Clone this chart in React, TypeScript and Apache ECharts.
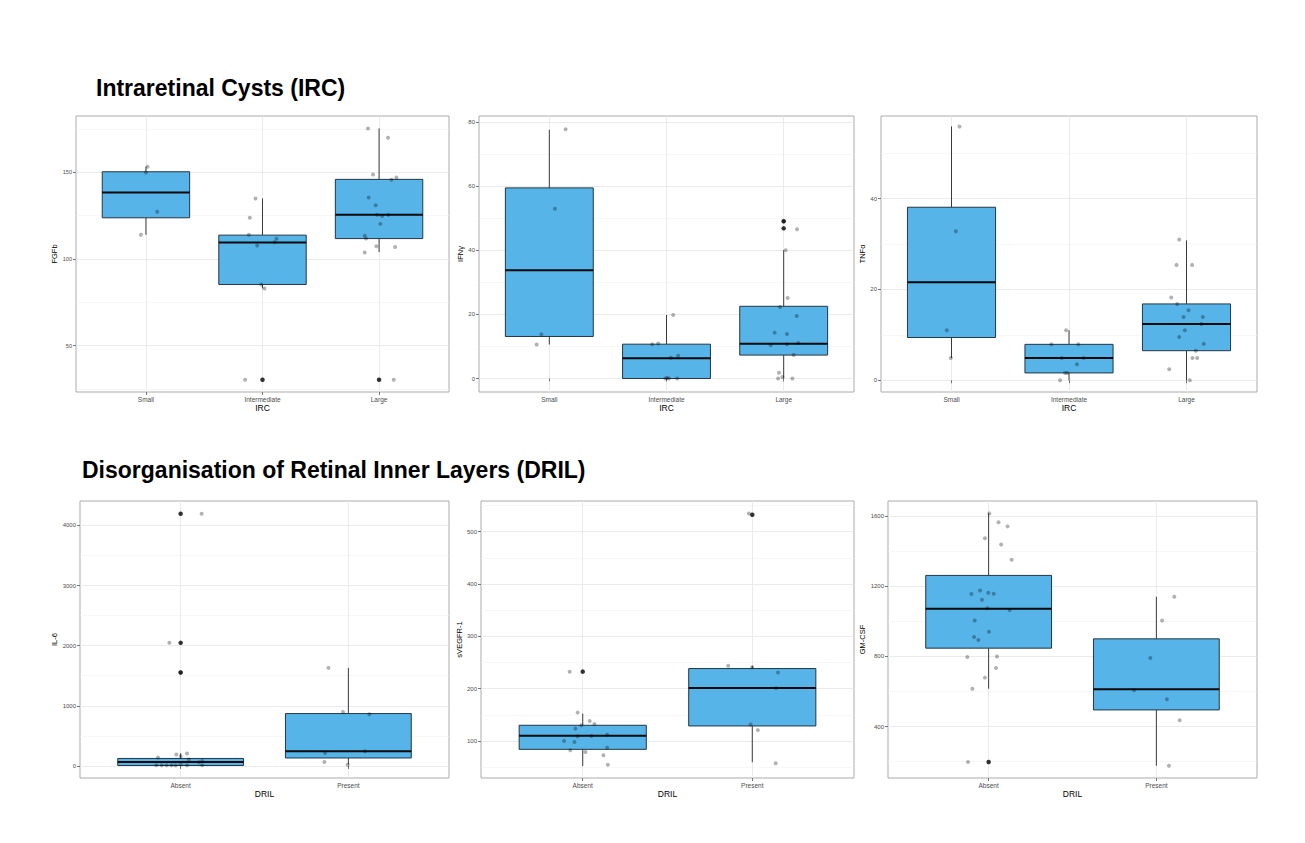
import React, { useEffect, useRef } from "react";
import * as echarts from "echarts";

const FONT = "'Liberation Sans', Arial, sans-serif";

const IRC_CATS = ["Small", "Intermediate", "Large"];
const DRIL_CATS = ["Absent", "Present"];

// Box statistics per category: [lower whisker, Q1, median, Q3, upper whisker]
// Outliers: [category position, value]; Points: [jittered category position, value]

// ---- FGFb ----
const FGFB_BOX = [
  [114, 123.8, 138.4, 150.4, 153.3],
  [83, 85.3, 109.5, 113.8, 135],
  [104, 111.8, 125.5, 146, 175.4],
];
const FGFB_OUTLIERS = [[2, 30.3], [3, 30.3]];
const FGFB_POINTS = [
  [1.014, 153.3], [1.0, 150], [1.097, 127.3], [0.957, 114],
  [1.94, 135], [1.891, 123.8], [1.883, 114], [1.954, 107.8], [2.103, 109.7], [2.12, 111.7], [1.989, 85.3], [2.017, 83], [1.851, 30.3],
  [2.905, 175.4], [3.077, 170], [2.948, 148.8], [3.149, 147.1], [3.106, 145.8], [2.911, 135.5], [2.971, 131.1], [2.983, 125.5],
  [3.026, 124.8], [3.08, 125.5], [3.011, 120.3], [2.877, 113.4], [2.888, 111.8], [2.977, 107.4], [3.138, 107], [2.877, 103.8], [3.126, 30.3],
];
const FGFB_TICKS = [50, 100, 150];
const FGFB_MINOR = [25, 75, 125, 175];
const FGFB_RANGE = [23.2, 182.6];

// ---- IFNγ ----
const IFNG_BOX = [
  [10.6, 13.1, 33.7, 59.4, 77.5],
  [0, 0, 6.3, 10.7, 19.8],
  [0, 7.3, 10.8, 22.5, 40],
];
const IFNG_OUTLIERS = [[3, 49], [3, 46.8]];
const IFNG_POINTS = [
  [1.139, 77.7], [1.048, 52.9], [0.932, 13.8], [0.892, 10.6],
  [2.057, 19.8], [1.878, 10.7], [1.929, 10.9], [2.037, 6.5], [2.099, 7.1], [2.006, 0.2], [1.991, 0], [2.091, 0], [2.02, 0],
  [3.0, 49], [3.114, 46.5], [3.017, 40], [3.034, 25.1], [2.969, 22.3], [3.111, 19.5], [2.923, 14.3], [3.028, 13.9],
  [2.889, 10.4], [3.028, 10.7], [3.125, 11.1], [3.085, 7.3], [2.96, 1.8], [2.989, 0.5], [2.952, 0], [3.074, 0],
];
const IFNG_TICKS = [0, 20, 40, 60, 80];
const IFNG_MINOR = [10, 30, 50, 70];
const IFNG_RANGE = [-4.2, 81.8];

// ---- TNFα ----
const TNFA_BOX = [
  [4.9, 9.4, 21.6, 38.1, 55.9],
  [0, 1.6, 4.9, 7.9, 11],
  [0, 6.5, 12.4, 16.8, 30.8],
];
const TNFA_OUTLIERS: number[][] = [];
const TNFA_POINTS = [
  [1.068, 55.9], [1.037, 32.8], [0.96, 11], [0.994, 4.9],
  [1.975, 11], [1.85, 7.9], [2.079, 7.9], [1.938, 4.9], [2.125, 4.9], [2.068, 3.5], [1.966, 1.6], [1.986, 1.6], [1.924, 0],
  [2.938, 31], [2.915, 25.4], [3.048, 25.4], [2.87, 18.2], [2.921, 16.8], [3.017, 15.4], [2.975, 13.9], [3.139, 13.9],
  [3.127, 12.4], [2.986, 11], [2.938, 9.5], [3.147, 8], [3.079, 6.5], [3.051, 4.9], [3.091, 4.9], [2.853, 2.4], [3.028, 0],
];
const TNFA_TICKS = [0, 20, 40];
const TNFA_MINOR = [10, 30, 50];
const TNFA_RANGE = [-2.6, 58.2];

// ---- IL-6 ----
const IL6_BOX = [
  [0, 8, 68, 125, 210],
  [22, 133, 244, 871, 1631],
];
const IL6_OUTLIERS = [[1, 4194], [1, 2047], [1, 1553]];
const IL6_POINTS = [
  [0.865, 140], [0.974, 190], [1.0, 161], [1.038, 206], [1.049, 106], [1.109, 62], [1.129, 83],
  [0.855, 12], [0.887, 10], [0.917, 10], [0.946, 10], [0.97, 8], [1.0, 28], [1.038, 12], [1.129, 12],
  [1.125, 4194], [0.933, 2047], [1.0, 1553],
  [1.881, 1631], [1.968, 899], [2.125, 860], [1.861, 216], [2.099, 244], [1.857, 67], [1.996, 22],
];
const IL6_TICKS = [0, 1000, 2000, 3000, 4000];
const IL6_MINOR = [500, 1500, 2500, 3500];
const IL6_RANGE = [-200, 4405];

// ---- sVEGFR-1 ----
const SVEGFR_BOX = [
  [52.2, 84, 110.2, 130, 152.4],
  [59.3, 128.7, 201.4, 238.4, 243.6],
];
const SVEGFR_OUTLIERS = [[1, 232.5], [2, 532.5]];
const SVEGFR_POINTS = [
  [0.923, 232.5], [0.97, 154.2], [1.041, 138.3], [1.069, 132.5], [0.992, 130], [0.957, 123.6], [0.97, 109], [1.051, 109.6],
  [1.144, 112], [0.89, 100], [0.951, 98], [1.144, 87.2], [0.927, 82.1], [1.016, 78.9], [1.122, 72.6], [1.148, 54.7],
  [1.858, 243.6], [2.0, 241], [2.152, 231], [2.14, 201], [1.99, 131.6], [2.033, 120.7], [2.138, 57.5], [1.98, 535],
];
const SVEGFR_TICKS = [100, 200, 300, 400, 500];
const SVEGFR_MINOR = [50, 150, 250, 350, 450, 550];
const SVEGFR_RANGE = [29.2, 558.7];

// ---- GM-CSF ----
const GMCSF_BOX = [
  [616, 847, 1071, 1261.5, 1615],
  [177, 495, 613, 900, 1140],
];
const GMCSF_OUTLIERS = [[1, 198]];
const GMCSF_POINTS = [
  [1.004, 1615], [1.059, 1564], [1.113, 1541], [0.978, 1473], [1.075, 1438], [1.137, 1351], [0.949, 1176], [0.897, 1155],
  [0.998, 1163], [1.03, 1157], [0.96, 1123], [0.992, 1075], [1.125, 1064], [0.917, 1004], [1.002, 940], [0.913, 911],
  [0.939, 894], [0.873, 796], [1.05, 800], [1.044, 734], [0.978, 679], [0.903, 616], [0.877, 198],
  [2.107, 1140], [2.034, 1004], [1.964, 791], [1.867, 607], [2.063, 556], [2.139, 436], [2.075, 177],
];
const GMCSF_TICKS = [400, 800, 1200, 1600];
const GMCSF_MINOR = [200, 600, 1000, 1400];
const GMCSF_RANGE = [107, 1685.6];

const TITLE_1 = "Intraretinal Cysts (IRC)";
const TITLE_2 = "Disorganisation of Retinal Inner Layers (DRIL)";

const PANELS = [
  { yName: "FGFb", xName: "IRC", cats: IRC_CATS, box: FGFB_BOX, out: FGFB_OUTLIERS, pts: FGFB_POINTS, ticks: FGFB_TICKS, minor: FGFB_MINOR, range: FGFB_RANGE,
    grid: { left: 76, top: 116, width: 373, height: 276 }, nameGap: 13, labelSize: 5.6 },
  { yName: "IFNγ", xName: "IRC", cats: IRC_CATS, box: IFNG_BOX, out: IFNG_OUTLIERS, pts: IFNG_POINTS, ticks: IFNG_TICKS, minor: IFNG_MINOR, range: IFNG_RANGE,
    grid: { left: 479, top: 116, width: 375, height: 276 }, nameGap: 14, labelSize: 6 },
  { yName: "TNFα", xName: "IRC", cats: IRC_CATS, box: TNFA_BOX, out: TNFA_OUTLIERS, pts: TNFA_POINTS, ticks: TNFA_TICKS, minor: TNFA_MINOR, range: TNFA_RANGE,
    grid: { left: 881, top: 116, width: 376, height: 276 }, nameGap: 11, labelSize: 6 },
  { yName: "IL-6", xName: "DRIL", cats: DRIL_CATS, box: IL6_BOX, out: IL6_OUTLIERS, pts: IL6_POINTS, ticks: IL6_TICKS, minor: IL6_MINOR, range: IL6_RANGE,
    grid: { left: 80, top: 501, width: 369, height: 277 }, nameGap: 16, labelSize: 6 },
  { yName: "sVEGFR-1", xName: "DRIL", cats: DRIL_CATS, box: SVEGFR_BOX, out: SVEGFR_OUTLIERS, pts: SVEGFR_POINTS, ticks: SVEGFR_TICKS, minor: SVEGFR_MINOR, range: SVEGFR_RANGE,
    grid: { left: 481, top: 501, width: 373, height: 277 }, nameGap: 14, labelSize: 6 },
  { yName: "GM-CSF", xName: "DRIL", cats: DRIL_CATS, box: GMCSF_BOX, out: GMCSF_OUTLIERS, pts: GMCSF_POINTS, ticks: GMCSF_TICKS, minor: GMCSF_MINOR, range: GMCSF_RANGE,
    grid: { left: 888, top: 501, width: 369, height: 277 }, nameGap: 17, labelSize: 6 },
];

function buildOption() {
  const grids: any[] = [];
  const xAxes: any[] = [];
  const yAxes: any[] = [];
  const series: any[] = [];

  PANELS.forEach((p, i) => {
    const n = p.cats.length;
    const catPos = p.cats.map((_, k) => k + 1);
    grids.push({
      ...p.grid,
      show: true,
      borderColor: "#ababab",
      borderWidth: 1,
      backgroundColor: "#ffffff",
    });
    xAxes.push({
      type: "value",
      gridIndex: i,
      min: 0.4,
      max: n + 0.6,
      name: p.xName,
      nameLocation: "middle",
      nameGap: 10,
      nameTextStyle: { fontSize: 8.5, color: "#000000", fontFamily: FONT },
      axisLine: { show: false },
      axisTick: { show: true, length: 3, lineStyle: { color: "#555", width: 0.8 }, customValues: catPos },
      axisLabel: {
        customValues: catPos,
        formatter: (v: number) => p.cats[Math.round(v) - 1] ?? "",
        fontSize: 6.5,
        color: "#4d4d4d",
        margin: 4,
        fontFamily: FONT,
      },
      splitLine: { show: true, lineStyle: { color: "#e6e6e6", width: 0.8 } },
    });
    // main y axis
    yAxes.push({
      type: "value",
      gridIndex: i,
      min: p.range[0],
      max: p.range[1],
      name: p.yName,
      nameLocation: "middle",
      nameGap: p.nameGap,
      nameTextStyle: { fontSize: 7.5, color: "#000000", fontFamily: FONT },
      axisLine: { show: false },
      axisTick: { show: true, length: 3, lineStyle: { color: "#555", width: 0.8 }, customValues: p.ticks },
      axisLabel: {
        customValues: p.ticks,
        formatter: (v: number) => String(v),
        fontSize: p.labelSize,
        color: "#4d4d4d",
        margin: 4,
        fontFamily: FONT,
      },
      splitLine: { show: true, lineStyle: { color: "#e6e6e6", width: 0.8 } },
    });
    // minor grid y axis
    yAxes.push({
      type: "value",
      gridIndex: i,
      min: p.range[0],
      max: p.range[1],
      position: "left",
      axisLine: { show: false },
      axisTick: { show: false, customValues: p.minor },
      axisLabel: { show: false, customValues: p.minor },
      splitLine: { show: true, lineStyle: { color: "#f2f2f2", width: 0.6 } },
    });
    const yIdx = i * 2;
    series.push({
      type: "custom",
      xAxisIndex: i,
      yAxisIndex: yIdx,
      z: 2,
      data: p.box.map((b, k) => [k + 1, ...b]),
      renderItem: (params: any, api: any) => {
        const x = api.value(0);
        const lo = api.coord([x, api.value(1)]);
        const q1 = api.coord([x, api.value(2)]);
        const med = api.coord([x, api.value(3)]);
        const q3 = api.coord([x, api.value(4)]);
        const hi = api.coord([x, api.value(5)]);
        const w = api.size([0.75, 0])[0];
        const cx = lo[0];
        const whisker = { stroke: "#3a3a3a", lineWidth: 1 };
        return {
          type: "group",
          children: [
            { type: "line", shape: { x1: cx, y1: hi[1], x2: cx, y2: q3[1] }, style: whisker },
            { type: "line", shape: { x1: cx, y1: q1[1], x2: cx, y2: lo[1] }, style: whisker },
            {
              type: "rect",
              shape: { x: cx - w / 2, y: q3[1], width: w, height: q1[1] - q3[1] },
              style: { fill: "#56B4E9", stroke: "#243642", lineWidth: 1 },
            },
            { type: "line", shape: { x1: cx - w / 2, y1: med[1], x2: cx + w / 2, y2: med[1] }, style: { stroke: "#0a0a0a", lineWidth: 2 } },
          ],
        };
      },
    });
    series.push({
      type: "scatter",
      xAxisIndex: i,
      yAxisIndex: yIdx,
      z: 3,
      symbol: "circle",
      symbolSize: 4.5,
      itemStyle: { color: "#000000" },
      data: p.out,
    });
    series.push({
      type: "scatter",
      xAxisIndex: i,
      yAxisIndex: yIdx,
      z: 4,
      symbol: "circle",
      symbolSize: 4,
      itemStyle: { color: "rgba(0,0,0,0.38)" },
      data: p.pts,
    });
  });

  return {
    animation: false,
    backgroundColor: "#ffffff",
    textStyle: { fontFamily: FONT },
    grid: grids,
    xAxis: xAxes,
    yAxis: yAxes,
    series,
    graphic: [
      {
        type: "text",
        left: 96,
        top: 76,
        style: { text: TITLE_1, fontSize: 23, fontWeight: "bold", fill: "#000", fontFamily: FONT },
      },
      {
        type: "text",
        left: 82,
        top: 458,
        style: { text: TITLE_2, fontSize: 23, fontWeight: "bold", fill: "#000", fontFamily: FONT },
      },
    ],
  };
}

export default function App() {
  const ref = useRef<HTMLDivElement>(null);
  useEffect(() => {
    if (!ref.current) return;
    const chart = echarts.init(ref.current, undefined, { renderer: "svg" });
    chart.setOption(buildOption() as any);
    return () => chart.dispose();
  }, []);
  return (
    <div
      ref={ref}
      style={{ position: "fixed", left: 0, top: 0, width: 1305, height: 843, background: "#fff" }}
    />
  );
}
